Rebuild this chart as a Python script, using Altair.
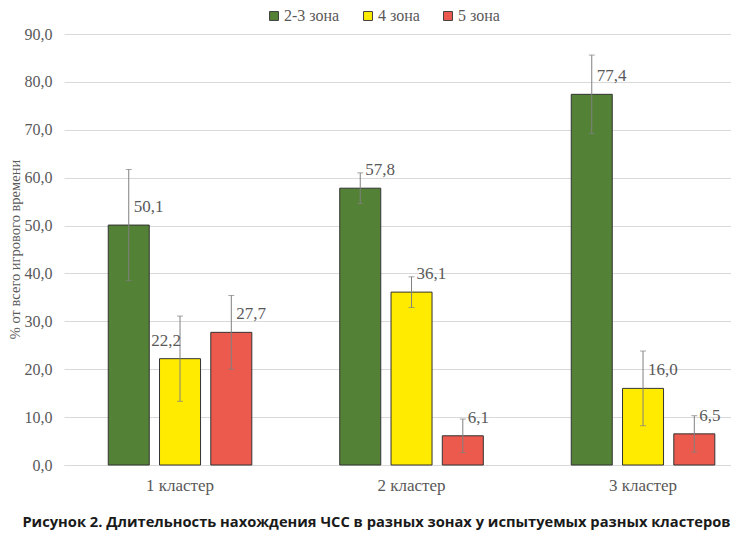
import altair as alt
import pandas as pd

clusters = ["1 кластер", "2 кластер", "3 кластер"]
zones = ["2-3 зона", "4 зона", "5 зона"]
zone_23 = [50.1, 57.8, 77.4]
zone_4 = [22.2, 36.1, 16.0]
zone_5 = [27.7, 6.1, 6.5]
err_23 = [11.6, 3.2, 8.2]
err_4 = [8.9, 3.2, 7.8]
err_5 = [7.7, 3.5, 3.8]
colors = ["#538135", "#FFEB00", "#EC5A4D"]

rows = []
for vals, errs, z in [(zone_23, err_23, zones[0]), (zone_4, err_4, zones[1]), (zone_5, err_5, zones[2])]:
    for c, v, e in zip(clusters, vals, errs):
        rows.append({"cluster": c, "zone": z, "value": v, "lo": v - e, "hi": v + e})
df = pd.DataFrame(rows)

SERIF = "Liberation Serif"
GRAY = "#595959"

x = alt.X("cluster:N", sort=clusters, title=None,
          scale=alt.Scale(paddingInner=0.24, paddingOuter=0.0606, align=1),
          axis=alt.Axis(labelAngle=0, ticks=False, domainColor="#d9d9d9", labelPadding=12,
                        labelFontSize=17))
xo = alt.XOffset("zone:N", sort=zones, scale=alt.Scale(paddingInner=0.2, paddingOuter=0.3155))

base = alt.Chart(df)

bars = base.mark_bar(stroke="#333333", strokeWidth=1).encode(
    x=x, xOffset=xo,
    y=alt.Y("value:Q", title="% от всего игрового времени",
            scale=alt.Scale(domain=[0, 90]),
            axis=alt.Axis(values=list(range(0, 91, 10)),
                          labelExpr="replace(format(datum.value, '.1f'), '.', ',')",
                          labelPadding=12, labelFontSize=16, ticks=False, domain=False,
                          gridColor="#d9d9d9",
                          titleX=-49, titleY=215, titleAngle=270, titleFontSize=14.5,
                          titleBaseline="middle", titleAlign="center")),
    color=alt.Color("zone:N", sort=zones, scale=alt.Scale(domain=zones, range=colors),
                    legend=alt.Legend(title=None, orient="none", direction="horizontal",
                                      legendX=202, legendY=-26, symbolType="square",
                                      symbolSize=80, symbolStrokeColor="#404040",
                                      symbolStrokeWidth=1, columnPadding=20, labelOffset=2)),
)

rules = base.mark_rule(color="#808080", strokeWidth=1).encode(
    x=x, xOffset=xo, y="lo:Q", y2="hi:Q")
caps_hi = base.mark_tick(color="#808080", size=6, thickness=1).encode(x=x, xOffset=xo, y="hi:Q")
caps_lo = base.mark_tick(color="#808080", size=6, thickness=1).encode(x=x, xOffset=xo, y="lo:Q")

is_exc = "datum.cluster == '1 кластер' && datum.zone == '4 зона'"
labels = base.transform_filter("!(" + is_exc + ")").transform_calculate(
    lab="replace(format(datum.value, '.1f'), '.', ',')"
).mark_text(align="left", baseline="middle", dx=5, dy=-18, font=SERIF, fontSize=17, color=GRAY).encode(
    x=x, xOffset=xo, y="value:Q", text="lab:N")
labels2 = base.transform_filter(is_exc).transform_calculate(
    lab="replace(format(datum.value, '.1f'), '.', ',')"
).mark_text(align="right", baseline="middle", dx=1, dy=-18, font=SERIF, fontSize=17, color=GRAY).encode(
    x=x, xOffset=xo, y="value:Q", text="lab:N")

chart = alt.layer(bars, rules, caps_hi, caps_lo, labels, labels2).properties(
    width=667, height=431,
    padding={"left": 56, "top": 26, "right": 0, "bottom": 71},
    autosize=alt.AutoSizeParams(type="none"),
    title=alt.TitleParams(
        "Рисунок 2. Длительность нахождения ЧСС в разных зонах у испытуемых разных кластеров",
        orient="bottom", anchor="middle", font="Open Sans", fontSize=14.7,
        fontWeight="bold", color="#1a1a1a", offset=22, dx=-21),
).configure(font=SERIF).configure_axis(
    labelFont=SERIF, labelColor=GRAY,
    titleFont=SERIF, titleFontWeight="normal", titleColor=GRAY,
).configure_legend(
    labelFont=SERIF, labelFontSize=16, labelColor=GRAY,
).configure_view(stroke=None)

chart.save("out.html", embed_options={"renderer": "svg", "actions": False})
